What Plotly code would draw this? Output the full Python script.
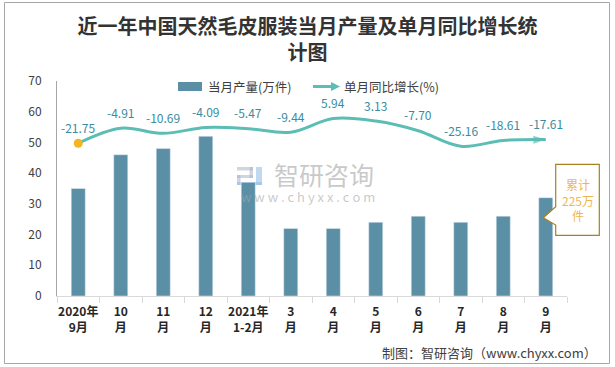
import plotly.graph_objects as go

categories = ["2020年<br>9月", "10<br>月", "11<br>月", "12<br>月", "2021年<br>1-2月", "3<br>月",
              "4<br>月", "5<br>月", "6<br>月", "7<br>月", "8<br>月", "9<br>月"]
output_wan = [35, 46, 48, 52, 37, 22, 22, 24, 26, 24, 26, 32]
growth_pct = [-21.75, -4.91, -10.69, -4.09, -5.47, -9.44, 5.94, 3.13, -7.70, -25.16, -18.61, -17.61]
growth_labels = ["-21.75", "-4.91", "-10.69", "-4.09", "-5.47", "-9.44", "5.94", "3.13", "-7.70", "-25.16", "-18.61", "-17.61"]

W, H = 615, 367
L, R, T, B = 57, 48, 81, 71
PW, PH = W - L - R, H - T - B

def px(x):
    return (x - L) / PW

def py(y):
    return (H - B - y) / PH

FONT = "Noto Sans CJK SC"
BAR_C = "#5B8FA6"
LINE_C = "#5CBDB5"
LABEL_C = "#3A8C9E"
DOT_C = "#F5B422"

fig = go.Figure()
fig.add_trace(go.Bar(x=categories, y=output_wan, marker_color=BAR_C, width=0.33,
                     showlegend=False, hoverinfo="skip"))
n = len(growth_pct)
fig.add_trace(go.Scatter(
    x=categories, y=growth_pct, yaxis="y2", mode="lines+markers",
    line=dict(color=LINE_C, width=3, shape="spline"),
    marker=dict(symbol="arrow", size=[0] * (n - 1) + [13], color=LINE_C,
                angleref="previous", line=dict(width=0)),
    showlegend=False, hoverinfo="skip", cliponaxis=False))
fig.add_trace(go.Scatter(
    x=categories[:1], y=growth_pct[:1], yaxis="y2", mode="markers",
    marker=dict(symbol="circle", size=9, color=DOT_C, line=dict(width=0)),
    showlegend=False, hoverinfo="skip", cliponaxis=False))

annotations = []
for c, v, t in zip(categories, growth_pct, growth_labels):
    annotations.append(dict(x=c, y=v, xref="x", yref="y2", text=t, showarrow=False,
                            yshift=16, font=dict(family=FONT, size=12, color=LABEL_C)))

# legend
shapes = []
shapes.append(dict(type="rect", xref="paper", yref="paper", x0=px(178), x1=px(202),
                   y0=py(91), y1=py(82), fillcolor=BAR_C, line=dict(width=0)))
annotations.append(dict(x=px(206), y=py(86.5), xref="paper", yref="paper", xanchor="left",
                        yanchor="middle", text="当月产量(万件)", showarrow=False,
                        font=dict(family=FONT, size=12.5, color="#404040")))
shapes.append(dict(type="line", xref="paper", yref="paper", x0=px(313), x1=px(333),
                   y0=py(86.5), y1=py(86.5), line=dict(color=LINE_C, width=3)))
shapes.append(dict(type="path", xref="paper", yref="paper",
                   path=f"M {px(331)},{py(82)} L {px(340)},{py(86.5)} L {px(331)},{py(91)} Z",
                   fillcolor=LINE_C, line=dict(width=0)))
annotations.append(dict(x=px(342), y=py(86.5), xref="paper", yref="paper", xanchor="left",
                        yanchor="middle", text="单月同比增长(%)", showarrow=False,
                        font=dict(family=FONT, size=12.5, color="#404040")))

# callout
path = (f"M {px(555.7)},{py(164.3)} L {px(599.3)},{py(164.3)} L {px(599.3)},{py(235.3)} "
        f"L {px(555.7)},{py(235.3)} L {px(555.7)},{py(225)} L {px(543.3)},{py(217.7)} "
        f"L {px(555.7)},{py(206.7)} Z")
shapes.append(dict(type="path", xref="paper", yref="paper", path=path, fillcolor="white",
                   line=dict(color="#A8801F", width=1.2)))
annotations.append(dict(x=px(577.5), y=py(200), xref="paper", yref="paper", xanchor="center",
                        yanchor="middle", text="累计<br>225万<br>件", showarrow=False,
                        font=dict(family=FONT, size=12, color="#F2B54E")))

# outer border
shapes.append(dict(type="rect", xref="paper", yref="paper", x0=px(4.5), x1=px(609.5),
                   y0=py(363.5), y1=py(2.5), line=dict(color="#A6A6A6", width=1),
                   fillcolor="rgba(0,0,0,0)", layer="below"))

# watermark text + logo
annotations.append(dict(x=px(323.5), y=py(173.5), xref="paper", yref="paper", text="智研咨询",
                        showarrow=False, font=dict(family=FONT, size=25, color="rgba(165,165,165,0.6)")))
annotations.append(dict(x=px(307.5), y=py(196), xref="paper", yref="paper",
                        text="w w w . c h y x x . c o m", showarrow=False,
                        font=dict(family=FONT, size=13, color="rgba(165,165,165,0.6)")))
logo_parts = [
    (237, 253, 167, 170.5, "rgba(170,180,200,0.55)"),
    (249.5, 253, 167, 178, "rgba(170,180,200,0.55)"),
    (237, 253, 175, 178, "rgba(170,180,200,0.55)"),
    (237, 240.5, 175, 185, "rgba(170,180,200,0.55)"),
    (237, 262, 182, 185, "rgba(140,185,230,0.55)"),
    (256, 262, 167, 185, "rgba(140,185,230,0.55)"),
]
for x0, x1, y0, y1, col in logo_parts:
    shapes.append(dict(type="rect", xref="paper", yref="paper", x0=px(x0), x1=px(x1),
                       y0=py(y1), y1=py(y0), fillcolor=col, line=dict(width=0), layer="below"))

# footer
annotations.append(dict(x=px(599), y=py(352), xref="paper", yref="paper", xanchor="right",
                        yanchor="middle", text="制图：智研咨询（www.chyxx.com）", showarrow=False,
                        font=dict(family=FONT, size=13, color="#404040")))

fig.update_layout(
    width=W, height=H, margin=dict(l=L, r=R, t=T, b=B, autoexpand=False),
    paper_bgcolor="white", plot_bgcolor="white",
    title=dict(text="近一年中国天然毛皮服装当月产量及单月同比增长统<br>计图", x=0.5, xanchor="center",
               y=1 - 34 / H, yanchor="middle", yref="container",
               font=dict(family=FONT, size=20, color="#333333", weight="bold")),
    bargap=0.67,
    xaxis=dict(type="category", range=[-0.5, len(categories) - 0.5], autorange=False,
               showline=True, linecolor="#D9D9D9", linewidth=1,
               ticks="outside", tickson="boundaries", ticklen=6, tickcolor="#D9D9D9",
               tickangle=0, showgrid=False, ticklabelstandoff=5,
               tickfont=dict(family=FONT, size=12, color="#262626", weight="bold")),
    yaxis=dict(range=[0, 70], dtick=10, showline=True, linecolor="#A6A6A6", linewidth=1,
               showgrid=False, ticks="", ticklabelstandoff=12, zeroline=False,
               tickfont=dict(family=FONT, size=12, color="#404040")),
    yaxis2=dict(range=[-193, 48], overlaying="y", visible=False, showgrid=False, zeroline=False),
    shapes=shapes, annotations=annotations,
)

fig.write_html("out.html", config={"displayModeBar": False},
               post_script="document.body.style.margin='0';document.body.style.overflow='hidden';")
